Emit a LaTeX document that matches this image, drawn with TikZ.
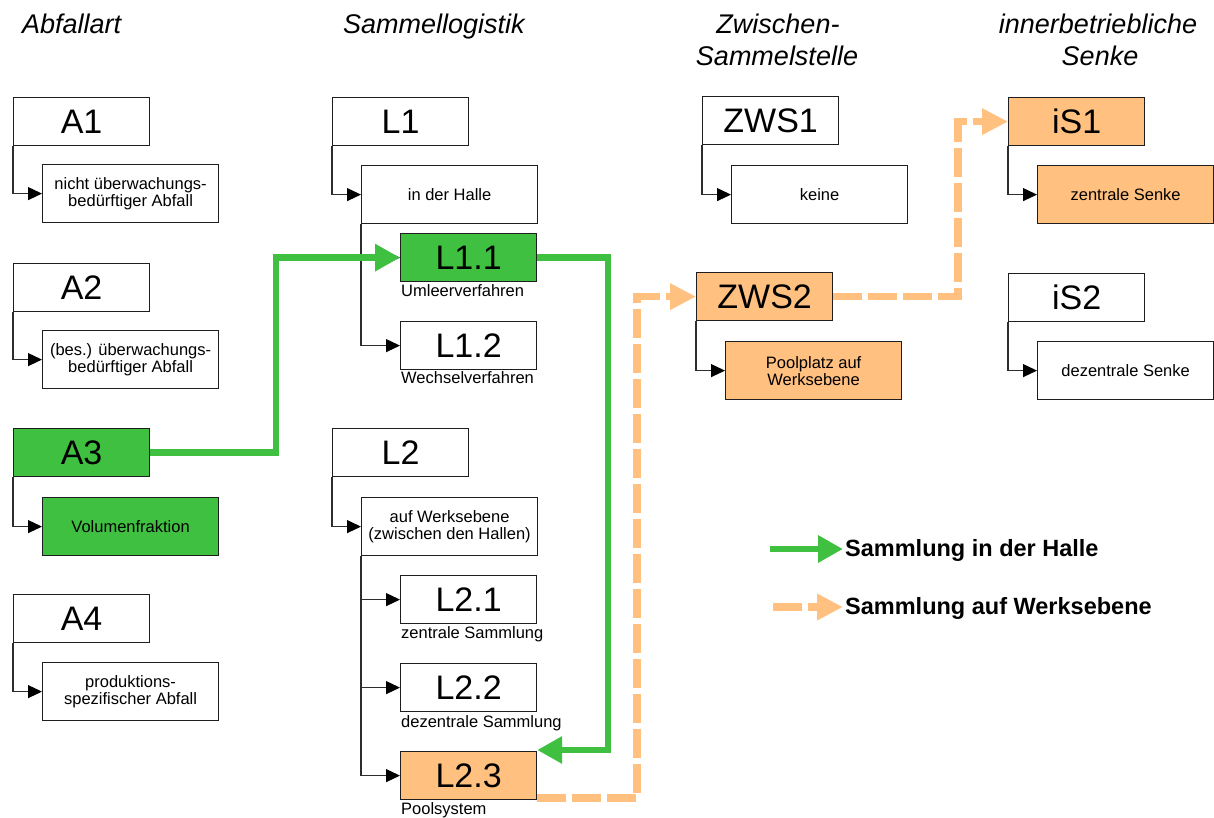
\documentclass[tikz,border=0pt]{standalone}
\usepackage{fontspec}
\setmainfont{Liberation Sans}
\usetikzlibrary{arrows.meta}
\definecolor{flowgreen}{RGB}{64,192,64}
\definecolor{flowpeach}{RGB}{255,192,128}
\definecolor{frame}{RGB}{30,30,30}
\definecolor{wire}{RGB}{45,45,45}
\begin{document}
\begin{tikzpicture}[x=1pt,y=-1pt,
  codebox/.style={draw=frame, line width=1.2pt, fill=white, minimum width=136pt,
    minimum height=48pt, inner sep=0pt, anchor=north west,
    font=\fontsize{34}{40}\selectfont},
  descbox/.style={draw=frame, line width=1.2pt, fill=white, minimum width=176pt,
    minimum height=58pt, inner sep=0pt, anchor=north west, align=center,
    font=\fontsize{16.5}{17}\selectfont},
  greenfill/.style={fill=flowgreen},
  peachfill/.style={fill=flowpeach},
  sublab/.style={anchor=base west, inner sep=0pt, font=\fontsize{16.5}{17}\selectfont},
  heading/.style={anchor=base, inner sep=0pt, font=\fontsize{27}{32}\selectfont\itshape},
  legendtext/.style={anchor=base west, inner sep=0pt, font=\fontsize{23.5}{28}\selectfont\bfseries},
  conn/.style={draw=wire, line width=1.1pt, -{Triangle[length=14pt,width=13pt,color=black]}},
  greenflow/.style={draw=flowgreen, line width=6.5pt, -{Triangle[length=25pt,width=26pt]}},
  peachflow/.style={draw=flowpeach, line width=7.5pt, dash pattern=on 29pt off 6pt,
    -{Triangle[length=26pt,width=25pt]}}
]
\useasboundingbox (0,0) rectangle (1214,817);

% column headings
\node[heading, anchor=base west] (hA) at (22,33) {Abfallart};
\node[heading, anchor=base west] (hL) at (343,33) {Sammellogistik};
\node[heading] (hZa) at (778,33) {Zwischen-};
\node[heading] (hZb) at (777,65) {Sammelstelle};
\node[heading] (hSa) at (1098,33) {innerbetriebliche};
\node[heading] (hSb) at (1100,65) {Senke};

% waste types
\node[codebox] (A1) at (13,97) {A1};
\node[descbox] (A1s) at (42,164) {nicht überwachungs-\\bedürftiger Abfall};
\node[codebox] (A2) at (13,263) {A2};
\node[descbox] (A2s) at (42,330) {(bes.) überwachungs-\\bedürftiger Abfall};
\node[codebox, greenfill] (A3) at (13,428) {A3};
\node[descbox, greenfill] (A3s) at (42,497) {Volumenfraktion};
\node[codebox] (A4) at (13,594) {A4};
\node[descbox] (A4s) at (42,662) {produktions-\\spezifischer Abfall};

% collection logistics
\node[codebox] (L1) at (332,97) {L1};
\node[descbox] (L1s) at (361,165) {in der Halle};
\node[codebox, greenfill] (L11) at (400,233) {L1.1};
\node[codebox] (L12) at (400,321) {L1.2};
\node[codebox] (L2) at (332,428) {L2};
\node[descbox] (L2s) at (361,497) {auf Werksebene\\(zwischen den Hallen)};
\node[codebox] (L21) at (400,575) {L2.1};
\node[codebox] (L22) at (400,663) {L2.2};
\node[codebox, peachfill] (L23) at (400,751) {L2.3};

\node[sublab] (L11t) at ([xshift=1pt,yshift=-14pt]L11.south west) {Umleerverfahren};
\node[sublab] (L12t) at ([xshift=1pt,yshift=-13pt]L12.south west) {Wechselverfahren};
\node[sublab] (L21t) at ([xshift=1pt,yshift=-14pt]L21.south west) {zentrale Sammlung};
\node[sublab] (L22t) at ([xshift=1pt,yshift=-15pt]L22.south west) {dezentrale Sammlung};
\node[sublab] (L23t) at ([xshift=1pt,yshift=-14pt]L23.south west) {Poolsystem};

% intermediate collection points
\node[codebox] (Z1) at (702,96) {ZWS1};
\node[descbox] (Z1s) at (731,165) {keine};
\node[codebox, peachfill] (Z2) at (696,272) {ZWS2};
\node[descbox, peachfill] (Z2s) at (725,341) {Poolplatz auf\\Werksebene};

% internal sinks
\node[codebox, peachfill] (S1) at (1008,97) {iS1};
\node[descbox, peachfill] (S1s) at (1037,165) {zentrale Senke};
\node[codebox] (S2) at (1008,273) {iS2};
\node[descbox] (S2s) at (1037,341) {dezentrale Senke};

% tree connectors
\foreach \p/\c in {A1/A1s, A2/A2s, A3/A3s, A4/A4s, L1/L1s, L2/L2s,
                   L1s/L11, L1s/L12, L2s/L21, L2s/L22, L2s/L23,
                   Z1/Z1s, Z2/Z2s, S1/S1s, S2/S2s}
  \draw[conn] (\p.south west) |- (\c.west);

% collection inside the hall
\draw[greenflow] (A3.east) -- ++(126pt,0) |- (L11.west);
\draw[greenflow] (L11.east) -- ++(71pt,0) |- ([yshift=1pt]L23.north east);

% collection across the plant
\draw[peachflow] ([yshift=2pt]L23.south east) -- ++(100pt,0) |- (Z2.west);
\draw[peachflow] (Z2.east) -- ++(125pt,0) |- (S1.west);

% legend
\coordinate (lgA) at (770,549);
\coordinate (lgAtip) at (843,549);
\coordinate (lgB) at (773,607);
\coordinate (lgBtip) at (843,607);
\draw[greenflow] (lgA) -- (lgAtip);
\draw[peachflow] (lgB) -- (lgBtip);
\node[legendtext] (lgAt) at (845,556) {Sammlung in der Halle};
\node[legendtext] (lgBt) at (845,614) {Sammlung auf Werksebene};
\end{tikzpicture}
\end{document}
